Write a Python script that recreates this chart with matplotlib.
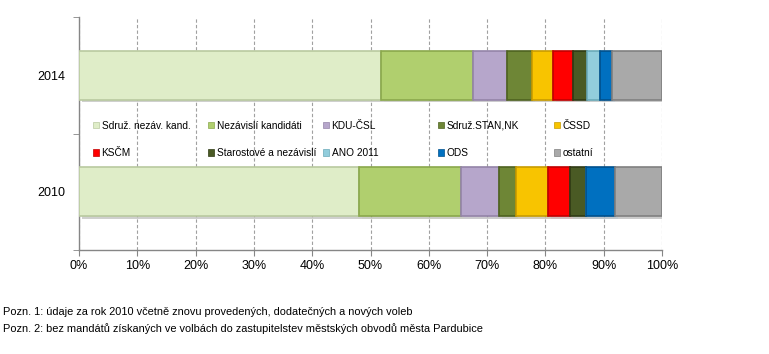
import numpy as np
import matplotlib
matplotlib.use("Agg")
import matplotlib.pyplot as plt
import matplotlib.patheffects as pe

plt.rcParams['font.family'] = ['Liberation Sans', 'DejaVu Sans']

years = ["2010", "2014"]
parties = ["Sdruž. nezáv. kand.", "Nezávislí kandidáti", "KDU-ČSL", "Sdruž.STAN,NK", "ČSSD",
           "KSČM", "Starostové a nezávislí", "ANO 2011", "ODS", "ostatní"]
share_2010 = [48.1, 17.5, 6.4, 2.9, 5.6, 3.8, 2.6, 0.0, 5.1, 8.0]
share_2014 = [51.8, 15.7, 5.9, 4.3, 3.6, 3.4, 2.5, 2.1, 2.2, 8.5]
colors = ["#DFEDC8", "#B0CF6E", "#B6A6CB", "#6E8636", "#F8C400",
          "#FF0000", "#4A5A24", "#92CDDC", "#0070C0", "#A9A9A9"]
edges = ["#B9C9A0", "#8AA84C", "#9484A8", "#4E6220", "#C89C00",
         "#C00000", "#2F3A14", "#6AAAB8", "#00508C", "#808080"]

fig = plt.figure(figsize=(7.69, 3.54), dpi=100)
ax = fig.add_axes([79 / 769, 1 - 250 / 354, 583 / 769, 233 / 354])

data = np.array([share_2010, share_2014])
ypos = np.arange(len(years))
left = np.zeros(len(years))
handles = []
for i, name in enumerate(parties):
    vals = data[:, i]
    bars = ax.barh(ypos, vals, left=left, height=0.42, color=colors[i],
                   edgecolor=edges[i], linewidth=1.2, label=name, zorder=3)
    for b in bars:
        b.set_path_effects([pe.SimplePatchShadow(offset=(2, -2), alpha=0.25), pe.Normal()])
    handles.append(bars)
    left += vals

ax.set_xlim(0, 100)
ax.set_ylim(-0.5, 1.5)
ax.set_xticks(np.arange(0, 101, 10))
ax.set_xticklabels([f"{v}%" for v in range(0, 101, 10)])
ax.set_yticks(ypos)
ax.set_yticklabels(years)
ax.set_yticks([-0.5, 0.5, 1.5], minor=True)
ax.tick_params(axis='y', which='major', length=0, pad=10, labelsize=9)
ax.tick_params(axis='y', which='minor', length=4, color='#868686')
ax.tick_params(axis='x', length=4, color='#868686', pad=3, labelsize=9)
ax.grid(axis='x', linestyle=(0, (3, 2)), color='#A0A0A0', linewidth=0.8, zorder=0)
for s in ['top', 'right']:
    ax.spines[s].set_visible(False)
for s in ['left', 'bottom']:
    ax.spines[s].set_color('#868686')
    ax.spines[s].set_linewidth(1.0)

# legend: five columns, two rows
col_x = [93, 208, 323, 438, 554]
for j, x in enumerate(col_x):
    hs = [handles[j], handles[j + 5]]
    ls = [parties[j], parties[j + 5]]
    leg = fig.legend(hs, ls, loc='upper left', bbox_to_anchor=(x / 769, 1 - 121 / 354),
                     frameon=False, fontsize=7.3, handlelength=0.55, handleheight=0.55,
                     handletextpad=0.3, labelspacing=1.68, borderpad=0, borderaxespad=0)
    for h in leg.legend_handles:
        h.set_path_effects([])
        h.set_linewidth(0.5)

fig.text(3 / 769, 1 - 312 / 354, "Pozn. 1: údaje za rok 2010 včetně znovu provedených, dodatečných a nových voleb",
         fontsize=7.9, va='center', ha='left')
fig.text(3 / 769, 1 - 329 / 354, "Pozn. 2: bez mandátů získaných ve volbách do zastupitelstev městských obvodů města Pardubice",
         fontsize=7.9, va='center', ha='left')

fig.savefig("out.png", dpi=100)
